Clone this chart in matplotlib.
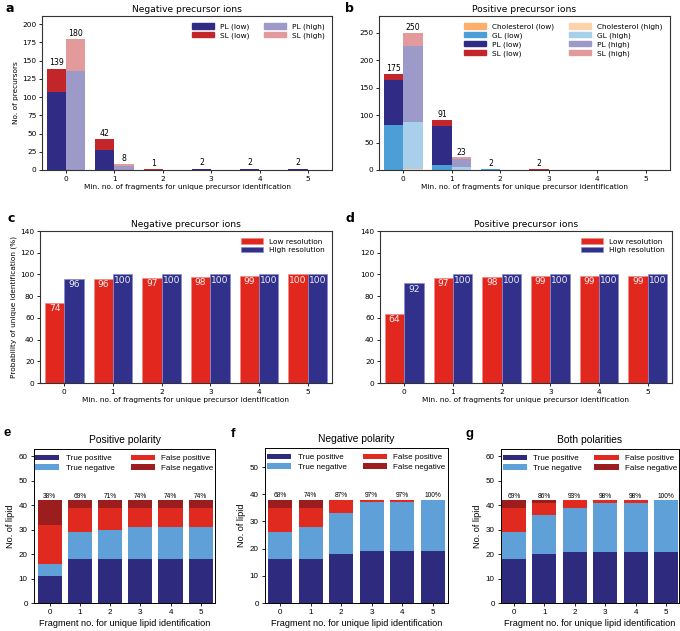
import matplotlib
matplotlib.use("Agg")
import matplotlib.pyplot as plt
import numpy as np
from matplotlib.patches import Patch

# ---------------- data ----------------
frag = [0, 1, 2, 3, 4, 5]

# panel a: negative precursor ions
a_pl_low = [107, 28, 0, 2, 2, 2]
a_sl_low = [32, 14, 1, 0, 0, 0]
a_pl_high = [136, 5, 0, 0, 0, 0]
a_sl_high = [44, 3, 0, 0, 0, 0]

# panel b: positive precursor ions
b_chol_low = [0, 0, 0, 0, 0, 0]
b_gl_low = [82, 10, 2, 0, 0, 0]
b_pl_low = [82, 71, 0, 0, 0, 0]
b_sl_low = [11, 10, 0, 2, 0, 0]
b_chol_high = [1, 0, 0, 0, 0, 0]
b_gl_high = [87, 6, 0, 0, 0, 0]
b_pl_high = [139, 14, 0, 0, 0, 0]
b_sl_high = [23, 3, 0, 0, 0, 0]

# panels c, d: probability of unique identification (%)
c_low = [74, 96, 97, 98, 99, 100]
c_high = [96, 100, 100, 100, 100, 100]
d_low = [64, 97, 98, 99, 99, 99]
d_high = [92, 100, 100, 100, 100, 100]

# panels e, f, g
e_tp = [11, 18, 18, 18, 18, 18]
e_tn = [5, 11, 12, 13, 13, 13]
e_fp = [16, 10, 9, 8, 8, 8]
e_fn = [10, 3, 3, 3, 3, 3]

f_tp = [16, 16, 18, 19, 19, 19]
f_tn = [10, 12, 15, 18, 18, 19]
f_fp = [9, 7, 5, 1, 1, 0]
f_fn = [3, 3, 0, 0, 0, 0]

g_tp = [18, 20, 21, 21, 21, 21]
g_tn = [11, 16, 18, 20, 20, 21]
g_fp = [10, 5, 3, 1, 1, 0]
g_fn = [3, 1, 0, 0, 0, 0]

# ---------------- styles ----------------
C_PL_LOW = '#302c86'
C_SL_LOW = '#c3262a'
C_PL_HIGH = '#9d99c9'
C_SL_HIGH = '#e39a9a'
C_GL_LOW = '#4b9fd6'
C_GL_HIGH = '#a8d0ea'
C_CH_LOW = '#fdae6b'
C_CH_HIGH = '#fdd3ac'
C_LOWRES = '#e2281e'
C_HIGHRES = '#31318b'
C_TP = '#2e2b7f'
C_TN = '#5fa0d8'
C_FP = '#e02a1f'
C_FN = '#9b1d1d'

W, H = 680, 631
fig = plt.figure(figsize=(W / 100, H / 100), dpi=100)

def axpos(l, r, t, b):
    return [l / W, (H - b) / H, (r - l) / W, (b - t) / H]

SMALL = 5.3
TITLE = 6.6

def style_dv(ax):
    for s in ax.spines.values():
        s.set_linewidth(0.8)
        s.set_color('#333333')
    ax.tick_params(labelsize=SMALL, length=2.5, width=0.6, pad=1.5)

x = np.array(frag, dtype=float)
bw = 0.4

def stacked(ax, xpos, series, colors):
    bottom = np.zeros(len(xpos))
    for vals, col in zip(series, colors):
        ax.bar(xpos, vals, bw, bottom=bottom, color=col, linewidth=0)
        bottom += np.array(vals, dtype=float)
    return bottom

# ---------- panel a ----------
ax = fig.add_axes(axpos(42, 332, 16, 170))
tl = stacked(ax, x - 0.2, [a_pl_low, a_sl_low], [C_PL_LOW, C_SL_LOW])
th = stacked(ax, x + 0.2, [a_pl_high, a_sl_high], [C_PL_HIGH, C_SL_HIGH])
for xi, v in zip(x - 0.2, tl):
    if v > 0:
        ax.text(xi, v + 1.5, f"{int(v)}", ha='center', va='bottom', fontsize=5.6)
for xi, v in zip(x + 0.2, th):
    if v > 0:
        ax.text(xi, v + 1.5, f"{int(v)}", ha='center', va='bottom', fontsize=5.6)
ax.set_xlim(-0.5, 5.5)
ax.set_ylim(0, 211)
ax.set_yticks(range(0, 201, 25))
ax.set_xticks(frag)
ax.set_title("Negative precursor ions", fontsize=TITLE, pad=3)
ax.set_ylabel("No. of precursors", fontsize=SMALL, labelpad=2)
ax.set_xlabel("Min. no. of fragments for unique precursor identification", fontsize=SMALL, labelpad=2)
style_dv(ax)
hs = [Patch(color=C_PL_LOW), Patch(color=C_SL_LOW), Patch(color=C_PL_HIGH), Patch(color=C_SL_HIGH)]
ax.legend(hs, ["PL (low)", "SL (low)", "PL (high)", "SL (high)"], ncol=2, frameon=False,
          fontsize=SMALL, loc='upper right', handlelength=3, handleheight=0.7,
          columnspacing=2.0, labelspacing=0.3, borderaxespad=0.6)
fig.text(5 / W, 1 - 9 / H, "a", fontsize=9, fontweight='bold', va='center')

# ---------- panel b ----------
ax = fig.add_axes(axpos(379, 670, 16, 170))
tl = stacked(ax, x - 0.2, [b_chol_low, b_gl_low, b_pl_low, b_sl_low],
             [C_CH_LOW, C_GL_LOW, C_PL_LOW, C_SL_LOW])
th = stacked(ax, x + 0.2, [b_chol_high, b_gl_high, b_pl_high, b_sl_high],
             [C_CH_HIGH, C_GL_HIGH, C_PL_HIGH, C_SL_HIGH])
for xi, v in zip(x - 0.2, tl):
    if v > 0:
        ax.text(xi, v + 1.5, f"{int(v)}", ha='center', va='bottom', fontsize=5.6)
for xi, v in zip(x + 0.2, th):
    if v > 0:
        ax.text(xi, v + 1.5, f"{int(v)}", ha='center', va='bottom', fontsize=5.6)
ax.set_xlim(-0.5, 5.5)
ax.set_ylim(0, 281)
ax.set_yticks(range(0, 251, 50))
ax.set_xticks(frag)
ax.set_title("Positive precursor ions", fontsize=TITLE, pad=3)
ax.set_xlabel("Min. no. of fragments for unique precursor identification", fontsize=SMALL, labelpad=2)
style_dv(ax)
hs = [Patch(color=C_CH_LOW), Patch(color=C_GL_LOW), Patch(color=C_PL_LOW), Patch(color=C_SL_LOW),
      Patch(color=C_CH_HIGH), Patch(color=C_GL_HIGH), Patch(color=C_PL_HIGH), Patch(color=C_SL_HIGH)]
ax.legend(hs, ["Cholesterol (low)", "GL (low)", "PL (low)", "SL (low)",
               "Cholesterol (high)", "GL (high)", "PL (high)", "SL (high)"],
          ncol=2, frameon=False, fontsize=SMALL, loc='upper right', handlelength=3,
          handleheight=0.7, columnspacing=2.0, labelspacing=0.3, borderaxespad=0.6)
fig.text(345 / W, 1 - 9 / H, "b", fontsize=9, fontweight='bold', va='center')

# ---------- panels c, d ----------
def prob_panel(ax, low, high, title, ylabel):
    ax.bar(x - 0.2, low, bw, color=C_LOWRES, edgecolor='#f08a84', linewidth=0.5, label="Low resolution")
    ax.bar(x + 0.2, high, bw, color=C_HIGHRES, edgecolor='#8a8ad0', linewidth=0.5, label="High resolution")
    for xi, v in zip(x - 0.2, low):
        ax.text(xi, v - 1.5, f"{v}", ha='center', va='top', fontsize=6.6, color='#f5eeee')
    for xi, v in zip(x + 0.2, high):
        ax.text(xi, v - 1.5, f"{v}", ha='center', va='top', fontsize=6.6, color='#eeeef8')
    ax.set_xlim(-0.5, 5.5)
    ax.set_ylim(0, 140)
    ax.set_yticks(range(0, 141, 20))
    ax.set_xticks(frag)
    ax.set_title(title, fontsize=TITLE, pad=3)
    if ylabel:
        ax.set_ylabel(ylabel, fontsize=SMALL, labelpad=2)
    ax.set_xlabel("Min. no. of fragments for unique precursor identification", fontsize=SMALL, labelpad=2)
    style_dv(ax)
    ax.legend(frameon=False, fontsize=SMALL, loc='upper right', handlelength=3,
              handleheight=0.7, labelspacing=0.3, borderaxespad=0.6)

ax = fig.add_axes(axpos(40, 332, 231, 383))
prob_panel(ax, c_low, c_high, "Negative precursor ions", "Probability of unique identification (%)")
fig.text(8 / W, 1 - 219 / H, "c", fontsize=9, fontweight='bold', va='center')

ax = fig.add_axes(axpos(380, 672, 231, 383))
prob_panel(ax, d_low, d_high, "Positive precursor ions", None)
fig.text(346 / W, 1 - 219 / H, "d", fontsize=9, fontweight='bold', va='center')

# ---------- panels e, f, g ----------
AR = ['Liberation Sans', 'DejaVu Sans']

def lipid_panel(ax, tp, tn, fp, fn, title, ylim, yticks, xlim, colsp=2.0):
    bottom = np.zeros(len(frag))
    for vals, col, lab in zip([tp, tn, fp, fn], [C_TP, C_TN, C_FP, C_FN],
                              ["True positive", "True negative", "False positive", "False negative"]):
        ax.bar(x, vals, 0.8, bottom=bottom, color=col, linewidth=0, label=lab)
        bottom += np.array(vals, dtype=float)
    for xi, t, a, b in zip(x, bottom, tp, tn):
        pct = round(100 * (a + b) / t)
        ax.text(xi, t + 0.3, f"{pct}%", ha='center', va='bottom', fontsize=4.8, family=AR)
    ax.set_xlim(*xlim)
    ax.set_ylim(0, ylim)
    ax.set_yticks(yticks)
    ax.set_xticks(frag)
    ax.set_title(title, fontsize=7.4, family=AR, pad=4)
    ax.set_xlabel("Fragment no. for unique lipid identification", fontsize=6.6, family=AR, labelpad=2)
    for s in ax.spines.values():
        s.set_linewidth(0.7)
        s.set_color('black')
    ax.tick_params(labelsize=5.8, length=2.5, width=0.6, pad=2)
    for lbl in ax.get_xticklabels() + ax.get_yticklabels():
        lbl.set_family(AR)
    ax.legend(ncol=2, frameon=False, prop={'family': AR, 'size': 5.8}, loc='upper center',
              handlelength=3, handleheight=0.7, columnspacing=colsp, labelspacing=0.2,
              borderaxespad=0.3)

ax = fig.add_axes(axpos(34, 215, 449, 603))
lipid_panel(ax, e_tp, e_tn, e_fp, e_fn, "Positive polarity", 63, range(0, 61, 10), (-0.52, 5.47))
ax.set_ylabel("No. of lipid", fontsize=6.6, family=AR, labelpad=3)
fig.text(3 / W, 1 - 433 / H, "e", fontsize=9.5, fontweight='bold', va='center', family=AR)

ax = fig.add_axes(axpos(265, 448, 448, 603))
lipid_panel(ax, f_tp, f_tn, f_fp, f_fn, "Negative polarity", 57, range(0, 51, 10), (-0.5, 5.5))
ax.set_ylabel("No. of lipid", fontsize=6.6, family=AR, labelpad=3)
fig.text(231 / W, 1 - 434 / H, "f", fontsize=9.5, fontweight='bold', va='center', family=AR)

ax = fig.add_axes(axpos(501, 679, 449, 603))
lipid_panel(ax, g_tp, g_tn, g_fp, g_fn, "Both polarities", 63, range(0, 61, 10), (-0.42, 5.42),
            colsp=1.5)
ax.set_ylabel("No. of lipid", fontsize=6.6, family=AR, labelpad=3)
fig.text(466 / W, 1 - 434 / H, "g", fontsize=9.5, fontweight='bold', va='center', family=AR)

fig.savefig("out.png", dpi=100)
